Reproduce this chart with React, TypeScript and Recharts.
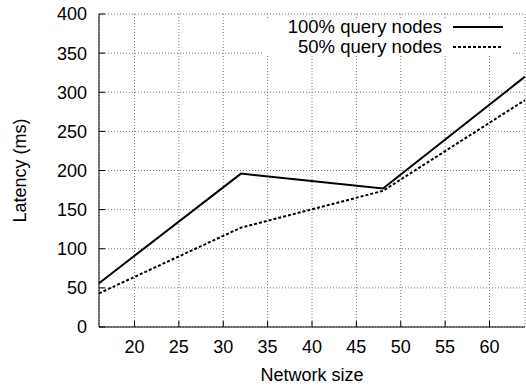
import { LineChart, Line, XAxis, YAxis, CartesianGrid, Legend } from 'recharts'

// network sizes measured, latency in ms
const networkSizes = [16, 32, 48, 64]
const allQueryNodes = [56, 196, 177, 320]
const halfQueryNodes = [43, 127, 174, 290]

const seriesNames = ['100% query nodes', '50% query nodes']
const xTicks = [20, 25, 30, 35, 40, 45, 50, 55, 60]
const yTicks = [0, 50, 100, 150, 200, 250, 300, 350, 400]

const FONT = '"Liberation Sans", Arial, Helvetica, sans-serif'

const data = networkSizes.map((size, i) => ({
  size,
  full: allQueryNodes[i],
  half: halfQueryNodes[i],
}))

function KeyBox() {
  const rows = [
    { name: seriesNames[0], dash: undefined },
    { name: seriesNames[1], dash: '3 2' },
  ]
  return (
    <div style={{ position: 'relative', width: 251, height: 37, background: '#fff' }}>
      {rows.map((r, i) => (
        <div key={r.name} style={{ position: 'absolute', left: 0, top: 8 + i * 19.5 - 10, height: 20, width: 251 }}>
          <span
            style={{
              position: 'absolute',
              right: 71,
              top: 0,
              lineHeight: '20px',
              fontSize: 18.5,
              fontFamily: FONT,
              color: '#000',
              whiteSpace: 'nowrap',
            }}
          >
            {r.name}
          </span>
          <svg width={50} height={20} style={{ position: 'absolute', left: 191, top: 0 }}>
            <line x1={0} y1={10} x2={50} y2={10} stroke="#000" strokeWidth={2} strokeDasharray={r.dash} />
          </svg>
        </div>
      ))}
    </div>
  )
}

export default function App() {
  const tickStyle = { fontSize: 18, fontFamily: FONT, fill: '#000' }
  return (
    <div style={{ position: 'absolute', left: 0, top: 0, background: '#fff' }}>
      <LineChart width={526} height={386} data={data} margin={{ top: 14, right: 1, bottom: 0, left: 0 }}>
        <CartesianGrid stroke="#777" strokeDasharray="1 2" />
        <XAxis
          dataKey="size"
          type="number"
          domain={[16, 64]}
          ticks={xTicks}
          height={59}
          tickSize={-6}
          tickMargin={19}
          stroke="#000"
          tick={tickStyle}
          label={{ value: 'Network size', position: 'insideBottom', offset: 5, style: { ...tickStyle } }}
        />
        <XAxis
          xAxisId="top"
          orientation="top"
          dataKey="size"
          type="number"
          domain={[16, 64]}
          ticks={xTicks}
          height={0}
          tickSize={-6}
          stroke="#000"
          tick={false}
        />
        <YAxis
          type="number"
          domain={[0, 400]}
          ticks={yTicks}
          width={99}
          tickSize={-6}
          tickMargin={18}
          stroke="#000"
          tick={tickStyle}
          label={{
            value: 'Latency (ms)',
            angle: -90,
            position: 'insideLeft',
            offset: 20,
            style: { ...tickStyle, textAnchor: 'middle' },
          }}
        />
        <YAxis
          yAxisId="right"
          orientation="right"
          type="number"
          domain={[0, 400]}
          ticks={yTicks}
          width={0}
          tickSize={-6}
          stroke="#000"
          tick={false}
        />
        <Legend
          layout="vertical"
          align="center"
          verticalAlign="middle"
          content={() => <KeyBox />}
          wrapperStyle={{ position: 'absolute', left: 262, top: 19, width: 251, height: 37 }}
        />
        <Line
          type="linear"
          dataKey="full"
          name={seriesNames[0]}
          stroke="#000"
          strokeWidth={2}
          dot={false}
          isAnimationActive={false}
        />
        <Line
          type="linear"
          dataKey="half"
          name={seriesNames[1]}
          stroke="#000"
          strokeWidth={2}
          strokeDasharray="3 2"
          dot={false}
          isAnimationActive={false}
        />
      </LineChart>
    </div>
  )
}
